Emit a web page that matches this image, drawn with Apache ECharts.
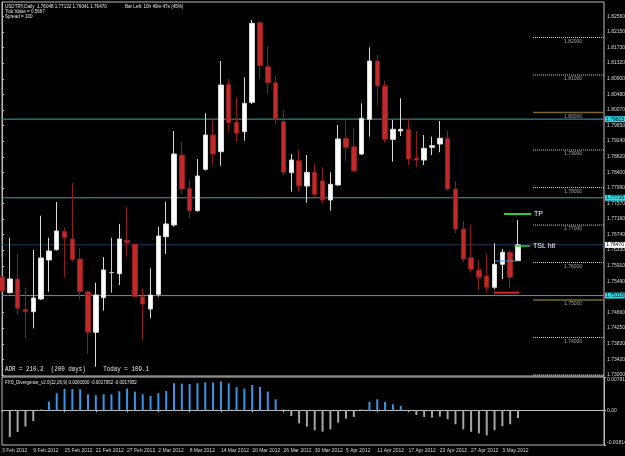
<!DOCTYPE html>
<html><head><meta charset="utf-8">
<script src="https://cdn.jsdelivr.net/npm/echarts@6/dist/echarts.min.js"></script>
<style>html,body{margin:0;padding:0;background:#000;}#c{width:625px;height:456px;}</style>
</head><body><div id="c"></div>
<script>
// ---- data ----
const dates = ['3 Feb 2012','6 Feb 2012','7 Feb 2012','8 Feb 2012','9 Feb 2012','10 Feb 2012','13 Feb 2012','14 Feb 2012','15 Feb 2012','16 Feb 2012','17 Feb 2012','20 Feb 2012','21 Feb 2012','22 Feb 2012','23 Feb 2012','24 Feb 2012','27 Feb 2012','28 Feb 2012','29 Feb 2012',
'1 Mar 2012','2 Mar 2012','5 Mar 2012','6 Mar 2012','7 Mar 2012','8 Mar 2012','9 Mar 2012','12 Mar 2012','13 Mar 2012','14 Mar 2012','15 Mar 2012','16 Mar 2012','19 Mar 2012','20 Mar 2012','21 Mar 2012','22 Mar 2012','23 Mar 2012','26 Mar 2012','27 Mar 2012','28 Mar 2012','29 Mar 2012','30 Mar 2012',
'2 Apr 2012','3 Apr 2012','4 Apr 2012','5 Apr 2012','6 Apr 2012','9 Apr 2012','10 Apr 2012','11 Apr 2012','12 Apr 2012','13 Apr 2012','16 Apr 2012','17 Apr 2012','18 Apr 2012','19 Apr 2012','20 Apr 2012','23 Apr 2012','24 Apr 2012','25 Apr 2012','26 Apr 2012','27 Apr 2012','30 Apr 2012',
'1 May 2012','2 May 2012','3 May 2012','4 May 2012','7 May 2012'];
const opens = [1.75613,1.75195,1.75560,1.74752,1.74688,1.75027,1.76067,1.76341,1.76832,1.76627,1.76093,1.75221,1.74139,1.75061,1.75730,1.75701,1.76592,1.76485,1.75088,
1.74760,1.75152,1.76688,1.77000,1.78867,1.77979,1.77381,1.78485,1.79400,1.78955,1.80752,1.79739,1.79488,1.80272,1.82395,1.81221,1.80795,1.79755,1.78395,1.78715,1.78040,1.78405,
1.78173,1.77667,1.78067,1.79312,1.79088,1.78893,1.79819,1.81373,1.80707,1.79285,1.79507,1.79552,1.78787,1.78733,1.79072,1.79160,1.79312,1.77960,1.76893,1.76128,1.75800,
1.75640,1.75339,1.75952,1.76272,1.76048];
const highs = [1.76147,1.76661,1.76227,1.75328,1.76333,1.77248,1.76661,1.77613,1.76939,1.78128,1.76379,1.75253,1.75461,1.76147,1.76661,1.77027,1.77488,1.76512,1.75312,
1.75845,1.76955,1.77621,1.79507,1.79221,1.78200,1.78760,1.79979,1.79800,1.81373,1.80893,1.80405,1.80939,1.82467,1.82440,1.81755,1.80973,1.80067,1.78893,1.79000,1.78867,1.78645,
1.78539,1.78405,1.79667,1.79872,1.79595,1.80245,1.81739,1.81533,1.80840,1.79800,1.80379,1.79845,1.79507,1.79400,1.79355,1.79773,1.79507,1.78173,1.77107,1.77019,1.76067,
1.76245,1.76512,1.76360,1.76333,1.77132];
const lows = [1.74520,1.75173,1.74600,1.73979,1.74245,1.75000,1.75221,1.76320,1.75605,1.76013,1.75019,1.73560,1.73221,1.74715,1.75195,1.75400,1.76155,1.75080,1.73933,
1.74512,1.75088,1.76227,1.76955,1.77827,1.77179,1.77355,1.78448,1.78600,1.78581,1.79488,1.79221,1.79248,1.80227,1.80893,1.80512,1.79693,1.78333,1.77888,1.77888,1.77595,1.77755,
1.77579,1.77381,1.78048,1.78707,1.78413,1.78867,1.79355,1.80200,1.79195,1.78688,1.79373,1.78581,1.78539,1.78600,1.78867,1.78939,1.77915,1.76779,1.76021,1.75728,1.75267,
1.75195,1.75285,1.75560,1.75312,1.76041];
const closes = [1.75240,1.75560,1.74779,1.74688,1.75053,1.76120,1.76307,1.76840,1.76661,1.76080,1.75221,1.74139,1.75133,1.75800,1.75730,1.76627,1.76528,1.75088,1.74893,
1.75133,1.76707,1.77027,1.78893,1.77960,1.77381,1.78307,1.79400,1.78893,1.80733,1.79728,1.79445,1.80245,1.82379,1.81248,1.80795,1.79827,1.78405,1.78733,1.78040,1.78405,1.77819,
1.77667,1.78085,1.79293,1.79061,1.78440,1.79845,1.81373,1.80707,1.79285,1.79552,1.79552,1.78760,1.78733,1.79045,1.79115,1.79312,1.77960,1.76893,1.76093,1.75819,1.75605,
1.75339,1.75952,1.76272,1.75605,1.76470];
const histogram = [null,-0.00626,-0.00509,-0.00382,-0.00251,0.00007,0.00204,0.00399,0.00500,0.00500,0.00493,0.00375,0.00352,0.00375,0.00375,0.00446,0.00509,0.00439,0.00375,
0.00335,0.00399,0.00453,0.00633,0.00626,0.00617,0.00633,0.00657,0.00650,0.00680,0.00633,0.00540,0.00509,0.00594,0.00547,0.00439,0.00258,0.00023,-0.00134,-0.00305,-0.00382,-0.00469,
-0.00500,-0.00446,-0.00289,-0.00195,-0.00157,0.00007,0.00195,0.00258,0.00195,0.00141,0.00101,-0.00007,-0.00110,-0.00157,-0.00171,-0.00148,-0.00211,-0.00328,-0.00446,-0.00504,-0.00540,
-0.00587,-0.00469,-0.00375,-0.00328,-0.0017952];
const priceTicks = [1.73000,1.73420,1.73830,1.74250,1.74660,1.75490,1.75910,1.76330,1.76740,1.77160,1.77570,1.77990,1.78400,1.78820,1.79240,1.79650,1.80070,1.80480,1.80900,1.81320,1.81730,1.82150,1.82560];
const oscTicks = [-0.00814, 0, 0.00781];
const levelPrices = [1.82,1.81,1.79,1.78,1.77,1.76,1.74,1.73];
const majorLevels = [1.80,1.75];
const cyanLines = [1.79823,1.77725,1.75118];
const bidPrice = 1.76470;
const tpPrice = 1.77293, tslPrice = 1.76440, slPrice = 1.75195, entryPrice = 1.76040;

// ---- layout helpers ----
const SLOTS = 78; // bars + right-side chart shift
const cats = Array.from({length: SLOTS}, (_, i) => i < dates.length ? dates[i] : '');
const candleData = dates.map((d, i) => [opens[i], closes[i], lows[i], highs[i]]);
const showDate = (i, v) => v !== '' && i % 4 === 0;
const axisCol = '#bdbdbd', txtCol = '#d6d6d6';
const FF = '"Liberation Sans", Arial, sans-serif';
const LX0 = 67.92, LX1 = SLOTS - 1, LLAB = 74.19; // level objects, in bar units

// horizontal object drawn as a 2-point line series on the bar-unit x axis
const hLine = (x0, x1, v, style, z, endLabel) => ({
  type: 'line', xAxisIndex: 2, yAxisIndex: 0, data: [[x0, v], [x1, v]], symbol: 'none', silent: true, z: z,
  lineStyle: style, emphasis: {disabled: true}, clip: false,
  endLabel: endLabel || {show: false}
});
const priceBox = (v, bg) => ({show: true, formatter: v.toFixed(5), backgroundColor: bg, color: '#000', fontSize: 5, fontFamily: FF, padding: [1, 1, 0, 1], distance: 1});
const objText = (t) => ({show: true, formatter: t, color: '#fff', fontSize: 7, fontFamily: FF, distance: 3});

const txt = (x, y, text, font, sx) => ({type: 'text', x: x, y: y, scaleX: sx, z: 100,
  style: {text: text, fill: '#e8e8e8', font: font, verticalAlign: 'middle', align: 'left'}});

const series = [];
levelPrices.forEach(v => series.push(hLine(LX0, LX1, v, {color: '#c8c8c8', width: 1, type: 'dotted'}, 1)));
majorLevels.forEach(v => series.push(hLine(LX0, LX1, v, {color: '#7a682c', width: 1.6, type: 'solid'}, 1)));
cyanLines.forEach(v => series.push(hLine(0, LX1, v, {color: '#3fa2ac', width: 1, type: 'solid'}, 1, priceBox(v, '#2fd9e8'))));
series.push(hLine(0, LX1, bidPrice, {color: '#1f3b66', width: 1, type: 'solid'}, 1, priceBox(bidPrice, '#ffffff')));
series.push({type: 'candlestick', xAxisIndex: 0, yAxisIndex: 0, data: candleData, barWidth: 5, z: 3,
  itemStyle: {color: '#ffffff', color0: '#c22a2a', borderColor: '#d9d9d9', borderColor0: '#8e1c1c', borderColorDoji: '#c8c8c8', borderWidth: 1}});
series.push({type: 'scatter', xAxisIndex: 2, yAxisIndex: 0, symbolSize: 0, z: 2, silent: true,
  data: levelPrices.concat(majorLevels).filter(v => v > 1.735).map(v => [LLAB, v]),
  label: {show: true, position: 'left', distance: 0, offset: [0, 4], formatter: p => p.value[1].toFixed(5), color: '#c8c8c8', fontSize: 5, fontFamily: FF}});
series.push(hLine(64.21, 67.66, tpPrice, {color: '#2fd02f', width: 2}, 5, objText('TP')));
series.push(hLine(65.53, 67.54, tslPrice, {color: '#2fd02f', width: 1.5}, 5, objText('TSL hit')));
series.push(hLine(62.93, 66.13, slPrice, {color: '#e02020', width: 2}, 5));
series.push(hLine(63.06, 65.75, entryPrice, {color: '#4a8fe0', width: 1}, 5));
series.push({type: 'bar', xAxisIndex: 1, yAxisIndex: 1, data: histogram, barWidth: 2, barMinHeight: 1,
  itemStyle: {color: p => p.value >= 0 ? '#3a95e8' : '#a6a6a6'}});

const chart = echarts.init(document.getElementById('c'), null, {renderer: 'canvas'});
chart.setOption({
  backgroundColor: '#000',
  animation: false,
  grid: [
    {left: 2, right: 21, top: 2, height: 374, show: true, borderColor: axisCol, borderWidth: 1, backgroundColor: '#000', outerBoundsMode: 'none'},
    {left: 2, right: 21, top: 377, height: 68, show: true, borderColor: axisCol, borderWidth: 1, backgroundColor: '#000', outerBoundsMode: 'none'}
  ],
  xAxis: [
    {type: 'category', gridIndex: 0, data: cats, boundaryGap: false, axisLine: {show: false}, axisTick: {show: false}, axisLabel: {show: false}, splitLine: {show: false}},
    {type: 'category', gridIndex: 1, data: cats, boundaryGap: false,
      axisLine: {show: true, lineStyle: {color: axisCol}},
      axisTick: {show: true, length: 2, interval: showDate, lineStyle: {color: axisCol}},
      axisLabel: {interval: showDate, align: 'left', color: txtCol, fontSize: 5, fontFamily: FF, margin: 3}, splitLine: {show: false}},
    {type: 'value', gridIndex: 0, min: 0, max: SLOTS - 1, show: false}
  ],
  yAxis: [
    {type: 'value', gridIndex: 0, position: 'right', min: 1.729733, max: 1.829467,
      axisLine: {show: true, lineStyle: {color: axisCol}},
      axisTick: {show: true, length: 2, customValues: priceTicks, lineStyle: {color: axisCol}},
      axisLabel: {customValues: priceTicks, formatter: v => v.toFixed(5), color: txtCol, fontSize: 5, fontFamily: FF, margin: 3},
      splitLine: {show: false}},
    {type: 'value', gridIndex: 1, position: 'right', min: -0.00814, max: 0.00781,
      axisLine: {show: true, lineStyle: {color: axisCol}},
      axisTick: {show: true, length: 2, customValues: oscTicks, lineStyle: {color: axisCol}},
      axisLabel: {customValues: oscTicks, formatter: v => v === 0 ? '0.00' : v.toFixed(5), color: txtCol, fontSize: 5, fontFamily: FF, margin: 3,
        verticalAlignMinLabel: 'bottom', verticalAlignMaxLabel: 'top'},
      splitLine: {show: false}}
  ],
  series: series,
  graphic: [
    txt(5, 6, 'USDTRY,Daily  1.76048 1.77132 1.76041 1.76470', '6px ' + FF, 0.76),
    txt(5, 11, 'Tick Value = 0.5667', '6px ' + FF, 0.76),
    txt(5, 16.5, 'Spread = 100', '6px ' + FF, 0.76),
    txt(125, 6, 'Bar Left: 10h 49m 47s (45%)', '6px ' + FF, 0.76),
    txt(5, 369.5, 'ADR = 210.2  (200 days)     Today = 109.1', '7.5px "Liberation Mono", monospace', 0.78),
    txt(5, 382, 'FXS_Divergence_v2.0(12,26,9) 0.0000000 -0.0017952 -0.0017952', '6px ' + FF, 0.74)
  ]
});
</script></body></html>
